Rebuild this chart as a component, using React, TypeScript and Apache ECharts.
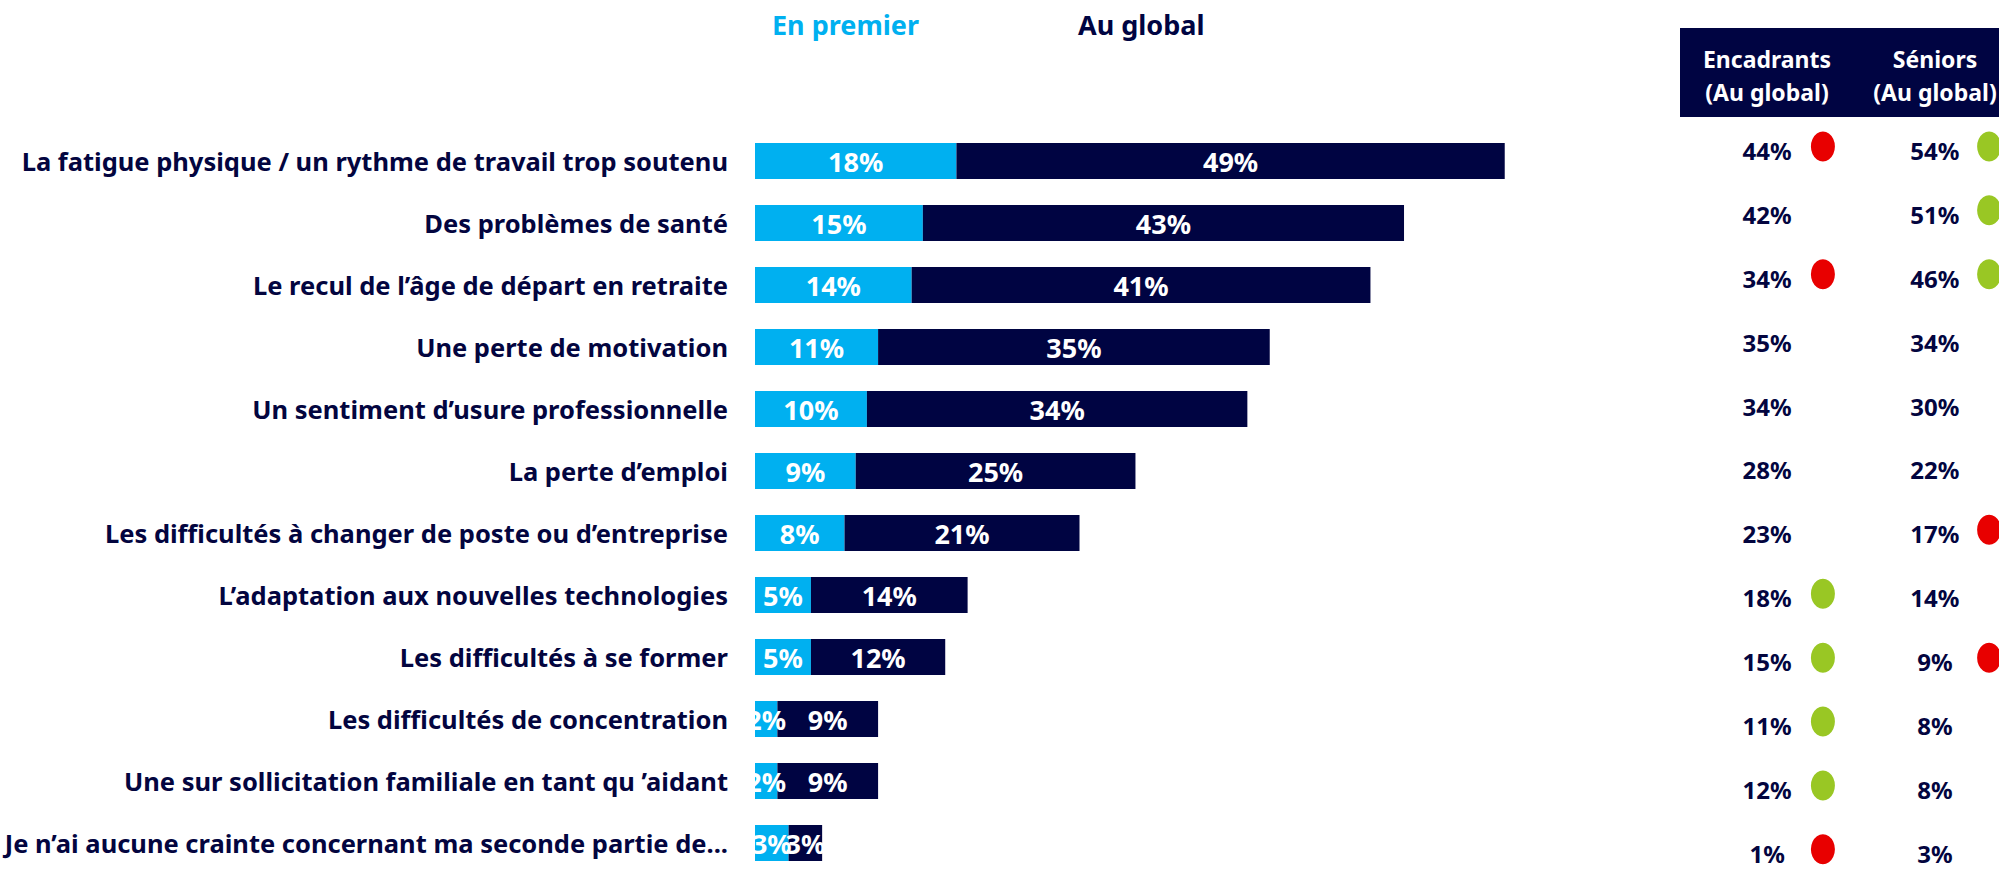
import React, { useEffect, useRef } from "react";
import * as echarts from "echarts";

const categories = [
  "La fatigue physique / un rythme de travail trop soutenu",
  "Des problèmes de santé",
  "Le recul de l’âge de départ en retraite",
  "Une perte de motivation",
  "Un sentiment d’usure professionnelle",
  "La perte d’emploi",
  "Les difficultés à changer de poste ou d’entreprise",
  "L’adaptation aux nouvelles technologies",
  "Les difficultés à se former",
  "Les difficultés de concentration",
  "Une sur sollicitation familiale en tant qu ’aidant",
  "Je n’ai aucune crainte concernant ma seconde partie de...",
];
const enPremier = [18, 15, 14, 11, 10, 9, 8, 5, 5, 2, 2, 3];
const auGlobal = [49, 43, 41, 35, 34, 25, 21, 14, 12, 9, 9, 3];
const encadrants = [44, 42, 34, 35, 34, 28, 23, 18, 15, 11, 12, 1];
const seniors = [54, 51, 46, 34, 30, 22, 17, 14, 9, 8, 8, 3];
// "down" = red dot, "up" = green dot, null = no dot
const encadrantsSignal = ["down", null, "down", null, null, null, null, "up", "up", "up", "up", "down"];
const seniorsSignal = ["up", "up", "up", null, null, null, "down", null, "down", null, null, null];
const legendLabels = ["En premier", "Au global"];
const headerLabels = ["Encadrants\n(Au global)", "Séniors\n(Au global)"];

const LIGHT = "#00b0f0";
const NAVY = "#000442";
const TEXT = "#03053f";
const RED = "#e80000";
const GREEN = "#99c724";
const FONT = "'Noto Sans', sans-serif";

// table column positions in the table grid's 0..1 x-space
const COL = { encText: 0.273, encDot: 0.448, senText: 0.799, senDot: 0.969 };

export default function App() {
  const ref = useRef<HTMLDivElement>(null);
  useEffect(() => {
    if (!ref.current) return;
    const chart = echarts.init(ref.current, null, { renderer: "svg" });
    const sigColor = (s: string | null) => (s === "down" ? RED : GREEN);
    const dots = (signals: (string | null)[], x: number) =>
      signals
        .map((s, i) => (s ? { value: [x, i], itemStyle: { color: sigColor(s), opacity: 1 } } : null))
        .filter((d) => d !== null);
    const valueLabel = {
      show: true,
      position: "inside",
      color: "#ffffff",
      fontFamily: FONT,
      fontWeight: "bold",
      fontSize: 27,
      formatter: (p: any) => p.value + "%",
    };
    const tableLabel = {
      show: true,
      position: "inside",
      color: TEXT,
      opacity: 1,
      fontFamily: FONT,
      fontWeight: "bold",
      fontSize: 24,
      formatter: (p: any) => p.value[2] + "%",
    };
    const legendBase = {
      top: 6,
      itemWidth: 0,
      itemHeight: 0,
      icon: "rect",
      selectedMode: false,
    };
    chart.setOption({
      animation: false,
      legend: [
        {
          ...legendBase,
          left: 762,
          data: [{ name: legendLabels[0] }],
          textStyle: { fontFamily: FONT, fontWeight: "bold", fontSize: 27, color: LIGHT },
        },
        {
          ...legendBase,
          left: 1068,
          data: [{ name: legendLabels[1] }],
          textStyle: { fontFamily: FONT, fontWeight: "bold", fontSize: 27, color: NAVY },
        },
      ],
      grid: [
        { left: 755, top: 130, width: 1119, height: 744, containLabel: false, outerBoundsMode: "none" },
        { left: 1680, top: 118.5, width: 319, height: 766.8, containLabel: false, outerBoundsMode: "none" },
      ],
      xAxis: [
        { type: "value", gridIndex: 0, min: 0, max: 100, show: false },
        { type: "value", gridIndex: 1, min: 0, max: 1, show: false },
      ],
      yAxis: [
        {
          type: "category",
          gridIndex: 0,
          data: categories,
          inverse: true,
          axisLine: { show: false },
          axisTick: { show: false },
          axisLabel: {
            color: TEXT,
            fontFamily: FONT,
            fontWeight: "bold",
            fontSize: 25.5,
            margin: 27,
          },
        },
        { type: "category", gridIndex: 1, data: categories, inverse: true, show: false },
      ],
      graphic: [
        {
          type: "rect",
          shape: { x: 1680, y: 28, width: 330, height: 89 },
          style: { fill: NAVY },
          silent: true,
        },
        {
          type: "text",
          x: 1767,
          y: 75,
          style: {
            text: headerLabels[0],
            fill: "#ffffff",
            font: `bold 23px ${FONT}`,
            align: "center",
            verticalAlign: "middle",
            lineHeight: 33,
          },
        },
        {
          type: "text",
          x: 1935,
          y: 75,
          style: {
            text: headerLabels[1],
            fill: "#ffffff",
            font: `bold 23px ${FONT}`,
            align: "center",
            verticalAlign: "middle",
            lineHeight: 33,
          },
        },
      ],
      series: [
        {
          name: legendLabels[0],
          type: "bar",
          stack: "total",
          xAxisIndex: 0,
          yAxisIndex: 0,
          barWidth: 36,
          data: enPremier,
          itemStyle: { color: LIGHT },
          label: valueLabel,
        },
        {
          name: legendLabels[1],
          type: "bar",
          stack: "total",
          xAxisIndex: 0,
          yAxisIndex: 0,
          barWidth: 36,
          data: auGlobal,
          itemStyle: { color: NAVY },
          label: valueLabel,
        },
        {
          name: "Encadrants",
          type: "scatter",
          xAxisIndex: 1,
          yAxisIndex: 1,
          symbolSize: 1,
          itemStyle: { color: "rgba(0,0,0,0)", opacity: 1 },
          data: encadrants.map((v, i) => [COL.encText, i, v]),
          label: tableLabel,
        },
        {
          name: "Séniors",
          type: "scatter",
          xAxisIndex: 1,
          yAxisIndex: 1,
          symbolSize: 1,
          itemStyle: { color: "rgba(0,0,0,0)", opacity: 1 },
          data: seniors.map((v, i) => [COL.senText, i, v]),
          label: tableLabel,
        },
        {
          name: "Encadrants signal",
          type: "scatter",
          xAxisIndex: 1,
          yAxisIndex: 1,
          symbol: "circle",
          symbolSize: [24, 30],
          symbolOffset: [0, -4],
          itemStyle: { opacity: 1 },
          data: dots(encadrantsSignal, COL.encDot),
        },
        {
          name: "Séniors signal",
          type: "scatter",
          xAxisIndex: 1,
          yAxisIndex: 1,
          symbol: "circle",
          symbolSize: [24, 30],
          symbolOffset: [0, -4],
          itemStyle: { opacity: 1 },
          data: dots(seniorsSignal, COL.senDot),
        },
      ],
    });
    return () => chart.dispose();
  }, []);
  return (
    <div
      style={{
        position: "absolute",
        left: 0,
        top: 0,
        width: 1999,
        height: 871,
        overflow: "hidden",
        background: "#ffffff",
      }}
    >
      <div ref={ref} style={{ width: 1999, height: 930 }} />
    </div>
  );
}
